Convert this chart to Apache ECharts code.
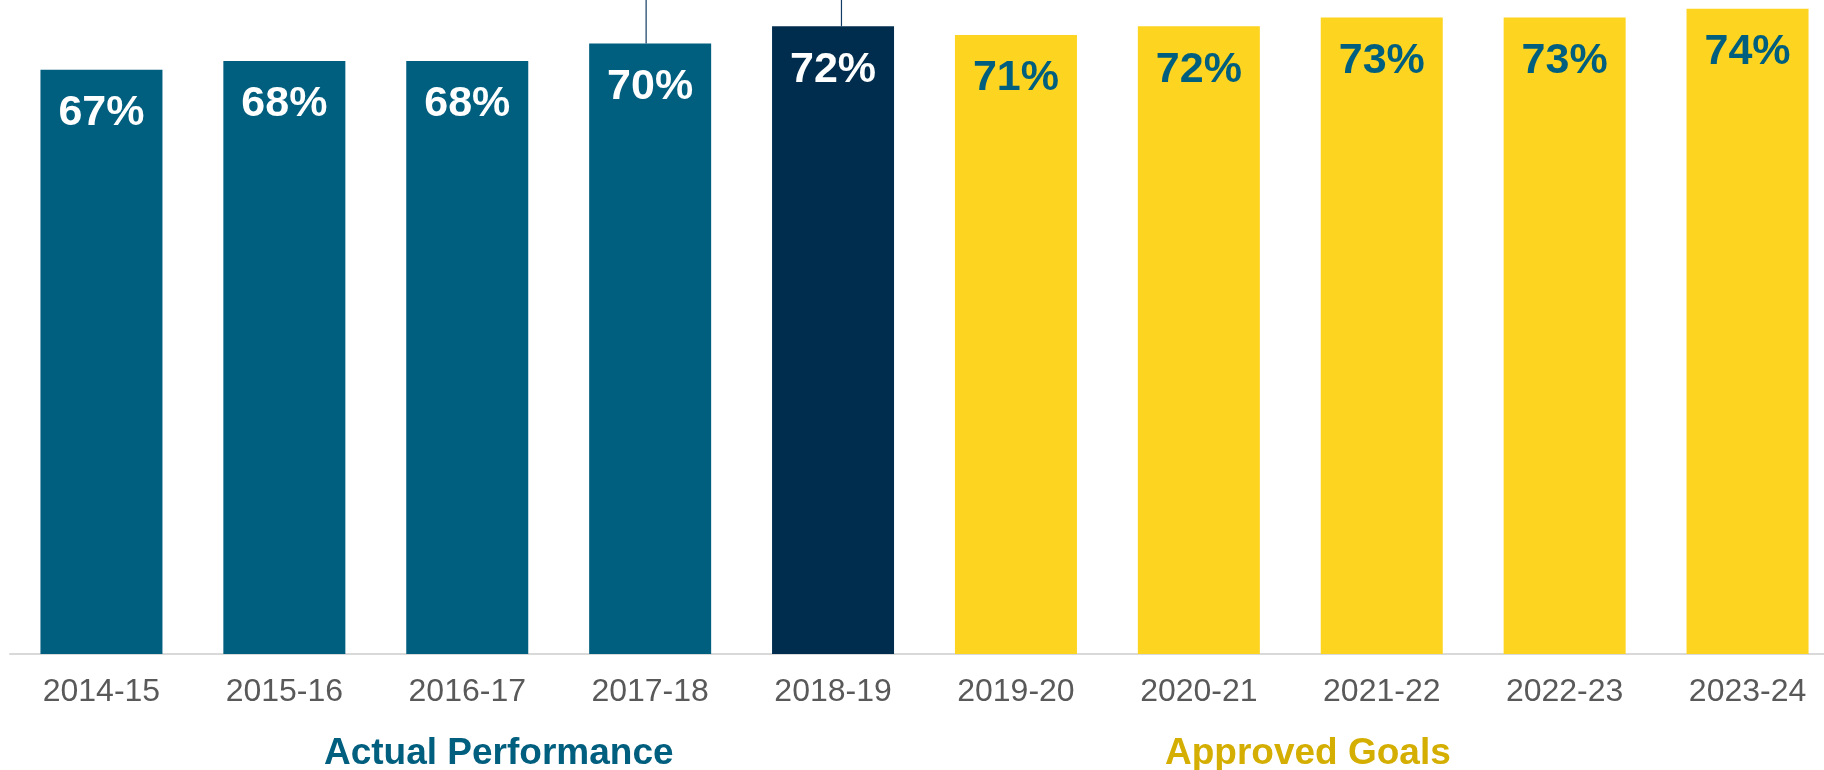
<!DOCTYPE html>
<html>
<head>
<meta charset="utf-8">
<script src="https://cdn.jsdelivr.net/npm/echarts@6/dist/echarts.min.js"></script>
<style>
html, body { margin: 0; padding: 0; background: #fff; }
#chart { width: 1824px; height: 770px; }
</style>
</head>
<body>
<div id="chart"></div>
<script>
// school years on the x axis
const years = ['2014-15', '2015-16', '2016-17', '2017-18', '2018-19',
               '2019-20', '2020-21', '2021-22', '2022-23', '2023-24'];
// percent values (actual first five, approved goals after)
const values = [67, 68, 68, 70, 72, 71, 72, 73, 73, 74];
// which group each bar belongs to
const kinds = ['actual', 'actual', 'actual', 'actual', 'latest',
               'goal', 'goal', 'goal', 'goal', 'goal'];
// leader lines that come down from above the chart onto two bars
const leaderX = [2.978, 4.046];
const leaderY = [70, 72];
const groupNames = ['Actual Performance', 'Approved Goals'];

const barColor = { actual: '#005E7E', latest: '#002D4D', goal: '#FDD41F' };
const labelColor = { actual: '#FFFFFF', latest: '#FFFFFF', goal: '#005E7E' };
const font = '"Liberation Sans", Arial, sans-serif';

let chart = echarts.init(document.getElementById('chart'));

let barData = values.map(function (v, i) {
    return {
        value: v,
        itemStyle: { color: barColor[kinds[i]] },
        label: { color: labelColor[kinds[i]] }
    };
});

let leaderSeries = leaderX.map(function (x, i) {
    return {
        type: 'line',
        xAxisIndex: 1,
        symbol: 'none',
        silent: true,
        lineStyle: { color: '#123B63', width: 1.2 },
        data: [[x, leaderY[i]], [x, 90]]
    };
});

let option = {
    animation: false,
    // the plot runs a little past the right edge of the picture
    grid: { left: 10, width: 1829, top: 0, bottom: 116, outerBoundsMode: 'none' },
    xAxis: [{
        type: 'category',
        data: years,
        axisLine: { lineStyle: { color: '#D9D9D9', width: 2 } },
        axisTick: { show: false },
        axisLabel: { color: '#595959', fontSize: 32, fontFamily: font, margin: 22 }
    }, {
        type: 'value',
        min: -0.5,
        max: 9.5,
        show: false
    }],
    yAxis: {
        type: 'value',
        min: 0,
        max: 75,
        show: false
    },
    series: [{
        type: 'bar',
        barWidth: 122,
        data: barData,
        label: {
            show: true,
            position: 'insideTop',
            distance: 22,
            fontSize: 43,
            fontWeight: 'bold',
            fontFamily: font,
            formatter: '{c}%'
        }
    }].concat(leaderSeries),
    graphic: [{
        type: 'text',
        left: 500 - 176,
        top: 735,
        style: { text: groupNames[0], fill: '#005E7E', font: 'bold 37px ' + font }
    }, {
        type: 'text',
        left: 1308 - 143,
        top: 735,
        style: { text: groupNames[1], fill: '#D4AE00', font: 'bold 37px ' + font }
    }]
};
chart.setOption(option);
</script>
</body>
</html>
